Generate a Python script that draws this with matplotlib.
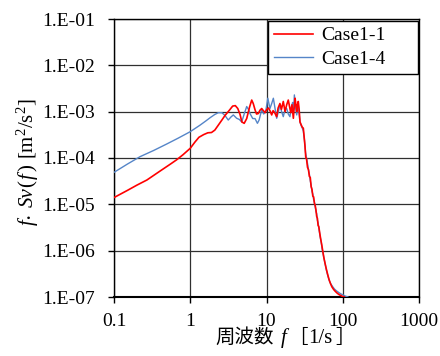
import numpy as np
import matplotlib
matplotlib.use("Agg")
from matplotlib import pyplot as plt
from matplotlib.ticker import NullLocator

# %% data
# Case1-1 (red)
case1_1_f = [0.1, 0.15, 0.2, 0.27, 0.4, 0.55, 0.66, 0.8, 1.0, 1.15, 1.3, 1.5, 1.7, 1.9,
             2.1, 2.33, 2.6, 2.86, 3.3, 3.6, 3.9, 4.2, 4.5, 4.75, 5.1, 5.5, 6.0, 6.4,
             6.7, 7.07, 7.4, 7.8, 8.2, 8.65, 9.1, 9.6, 10.1, 10.6, 11.1, 11.7, 12.2,
             12.8, 13.6, 14.2, 15.0, 15.7, 16.6, 17.5, 18.4, 19.3, 20.0, 20.8, 21.6,
             22.5, 23.1, 23.7, 24.3, 24.9, 25.5, 26.1, 26.8, 27.5, 28.5, 29.5, 30.4,
             31.2, 32.0, 32.7, 33.5, 34.5, 35.5, 36.5, 37.5, 38.5, 39.5, 40.5, 41.5,
             42.5, 43.5, 44.5, 45.5, 46.5, 47.5, 48.5, 50.0, 51.5, 53.0, 54.6, 56.5,
             58.5, 60.5, 63.0, 66.0, 69.0, 72.0, 76.0, 80.0, 85.0, 90.0, 95.0, 100.0,
             105.0]
case1_1_sv = [1.4e-5, 2.0e-5, 2.6e-5, 3.35e-5, 5.2e-5, 7.4e-5, 9.1e-5, 1.17e-4, 1.62e-4,
              2.2e-4, 2.8e-4, 3.2e-4, 3.5e-4, 3.55e-4, 4.0e-4, 5.1e-4, 6.6e-4, 8.3e-4,
              1.1e-3, 1.32e-3, 1.35e-3, 1.17e-3, 8.7e-4, 6.0e-4, 5.6e-4, 7.1e-4, 1.26e-3,
              1.78e-3, 1.5e-3, 1.1e-3, 8.9e-4, 9.1e-4, 1.07e-3, 1.17e-3, 1.05e-3, 9.5e-4,
              1.12e-3, 1.2e-3, 1.05e-3, 8.5e-4, 1.05e-3, 9.5e-4, 7.8e-4, 1.2e-3, 1.5e-3,
              1.12e-3, 1.66e-3, 1.0e-3, 1.41e-3, 1.78e-3, 1.32e-3, 9.5e-4, 1.41e-3,
              7.2e-4, 1.26e-3, 1.95e-3, 1.41e-3, 1.0e-3, 1.41e-3, 1.66e-3, 1.12e-3,
              6.0e-4, 5.2e-4, 4.6e-4, 4.4e-4, 2.8e-4, 1.78e-4, 1.05e-4, 9.5e-5, 6.3e-5,
              5.6e-5, 4.0e-5, 3.8e-5, 2.4e-5, 2.1e-5, 1.5e-5, 1.45e-5, 1.05e-5, 9.5e-6,
              7.6e-6, 5.5e-6, 5.0e-6, 3.5e-6, 3.3e-6, 2.35e-6, 1.74e-6, 1.35e-6, 1.0e-6,
              7.1e-7, 5.4e-7, 4.2e-7, 3.2e-7, 2.4e-7, 1.95e-7, 1.66e-7, 1.45e-7, 1.32e-7,
              1.2e-7, 1.12e-7, 1.07e-7, 1.02e-7, 1.0e-7]

# Case1-4 (blue)
case1_4_f = [0.1, 0.15, 0.22, 0.33, 0.49, 0.7, 1.0, 1.34, 1.6, 1.82, 2.1, 2.33, 2.6,
             2.85, 3.15, 3.4, 3.67, 4.06, 4.4, 4.73, 5.1, 5.5, 5.8, 6.08, 6.6, 7.07,
             7.6, 8.0, 8.65, 9.2, 9.8, 10.4, 11.1, 11.7, 12.3, 13.0, 13.6, 14.3, 15.0,
             15.8, 16.6, 17.5, 18.4, 19.3, 20.3, 21.2, 22.0, 22.7, 23.2, 24.0, 24.9,
             25.5, 26.1, 26.8, 27.5, 28.5, 29.5, 30.4, 31.5, 32.5, 33.5, 34.5, 35.5,
             36.5, 37.5, 38.5, 39.5, 40.5, 41.5, 42.5, 43.5, 44.5, 45.5, 46.5, 47.5,
             49.0, 50.5, 52.0, 53.5, 55.0, 57.0, 59.0, 61.0, 64.0, 67.0, 70.0, 74.0,
             78.0, 83.0, 88.0, 94.0, 100.0, 107.0, 117.0]
case1_4_sv = [4.9e-5, 7.4e-5, 1.07e-4, 1.45e-4, 2.0e-4, 2.7e-4, 3.7e-4, 5.1e-4, 6.3e-4,
              7.4e-4, 8.7e-4, 9.5e-4, 9.5e-4, 8.3e-4, 6.6e-4, 7.6e-4, 8.5e-4, 7.2e-4,
              6.8e-4, 6.0e-4, 8.9e-4, 1.29e-3, 1.12e-3, 9.1e-4, 7.1e-4, 7.1e-4, 5.6e-4,
              6.6e-4, 1.1e-3, 8.9e-4, 1.05e-3, 1.95e-3, 1.17e-3, 1.5e-3, 1.95e-3, 1.12e-3,
              7.2e-4, 1.0e-3, 1.38e-3, 1.0e-3, 7.8e-4, 1.12e-3, 1.17e-3, 8.9e-4, 7.8e-4,
              1.26e-3, 1.58e-3, 1.12e-3, 2.3e-3, 1.26e-3, 8.5e-4, 1.12e-3, 1.38e-3,
              8.9e-4, 6.0e-4, 5.0e-4, 4.4e-4, 3.8e-4, 2.4e-4, 1.32e-4, 1.0e-4, 7.6e-5,
              5.6e-5, 4.5e-5, 3.2e-5, 2.6e-5, 1.9e-5, 1.66e-5, 1.26e-5, 1.12e-5, 8.9e-6,
              7.1e-6, 6.3e-6, 4.5e-6, 4.0e-6, 2.8e-6, 2.0e-6, 1.58e-6, 1.12e-6, 8.9e-7,
              6.6e-7, 5.0e-7, 3.8e-7, 2.8e-7, 2.2e-7, 1.9e-7, 1.66e-7, 1.48e-7, 1.35e-7,
              1.26e-7, 1.17e-7, 1.12e-7, 1.05e-7, 1.0e-7]

x_ticks = [0.1, 1, 10, 100, 1000]
x_labels = ["0.1", "1", "10", "100", "1000"]
y_ticks = [1e-7, 1e-6, 1e-5, 1e-4, 1e-3, 1e-2, 1e-1]
y_labels = ["1.E-07", "1.E-06", "1.E-05", "1.E-04", "1.E-03", "1.E-02", "1.E-01"]

# axis titles, split into pieces so that each piece gets its own font
# (text, font family, style, size, gap before it in points, raise in points)
SERIF = ['Liberation Serif']
CJK = ['Noto Sans CJK JP', 'Liberation Serif']
xlabel_parts = [("周波数", CJK, 'normal', 14, 0, 0),
                ("f", SERIF, 'italic', 15, 5.5, 0),
                ("［", CJK, 'normal', 14, 1, 0),
                ("1/s", SERIF, 'normal', 15, 0, 0),
                ("］", CJK, 'normal', 14, 2.5, 0)]
ylabel_parts = [("f", SERIF, 'italic', 15, 0, 0),
                ("・", CJK, 'normal', 9, 0, 2.5),
                ("Sv", SERIF, 'italic', 15, 0, 0),
                ("(", SERIF, 'normal', 15, 0, 0),
                ("f", SERIF, 'italic', 15, 1, 0),
                (")", SERIF, 'normal', 15, 1.5, 0),
                ("[m$^2$/s$^2$]", SERIF, 'normal', 15, 4, 0)]

# %% style
plt.rcParams['font.family'] = ['Liberation Serif', 'Noto Sans CJK JP']
plt.rcParams['mathtext.fontset'] = 'custom'
plt.rcParams['mathtext.rm'] = 'Liberation Serif'
plt.rcParams['mathtext.it'] = 'Liberation Serif:italic'

# %% plot
fig = plt.figure(figsize=(4.4, 3.56), dpi=100)
ax = fig.add_axes([114/440, 1 - 297/356, 305/440, 278/356])

ax.plot(case1_4_f, case1_4_sv, color='#5585C8', lw=1.0, zorder=3, label='Case1-4')
ax.plot(case1_1_f, case1_1_sv, color='#FF0000', lw=1.2, zorder=4, label='Case1-1')

ax.set_xscale('log')
ax.set_yscale('log')
ax.set_xlim(0.1, 1000)
ax.set_ylim(1e-7, 1e-1)
ax.set_xticks(x_ticks, x_labels)
ax.set_yticks(y_ticks, y_labels)
ax.xaxis.set_minor_locator(NullLocator())
ax.yaxis.set_minor_locator(NullLocator())
ax.tick_params(axis='both', direction='out', length=4.5, width=1, labelsize=14,
               colors='k')
ax.tick_params(axis='y', pad=9)
ax.tick_params(axis='x', pad=7)
ax.grid(True, which='major', color='#303030', lw=0.9)
for s in ax.spines.values():
    s.set_color('k')
    s.set_linewidth(1.0)
ax.spines['bottom'].set_linewidth(1.5)

# x label: pieces chained left to right on one baseline
x0, y0 = 215/440, (356 - 343)/356
prev = None
for txt, fam, sty, sz, gap, up in xlabel_parts:
    if prev is None:
        prev = fig.text(x0, y0, txt, family=fam, style=sty, fontsize=sz,
                        ha='left', va='baseline')
    else:
        prev = ax.annotate(txt, xy=(1, y0), xycoords=(prev, fig.transFigure),
                           xytext=(gap, up), textcoords='offset points',
                           family=fam, style=sty, fontsize=sz, ha='left',
                           va='baseline', annotation_clip=False)

# y label: pieces chained bottom to top, rotated
x1, y1 = 33/440, (356 - 225)/356
prev = None
for txt, fam, sty, sz, gap, up in ylabel_parts:
    if prev is None:
        prev = fig.text(x1, y1, txt, family=fam, style=sty, fontsize=sz,
                        rotation=90, rotation_mode='anchor', ha='left',
                        va='baseline')
    else:
        prev = ax.annotate(txt, xy=(x1, 1), xycoords=(fig.transFigure, prev),
                           xytext=(-up, gap), textcoords='offset points',
                           family=fam, style=sty, fontsize=sz, rotation=90,
                           rotation_mode='anchor', ha='left', va='baseline',
                           annotation_clip=False)

handles, labels = ax.get_legend_handles_labels()
leg = ax.legend(handles[::-1], labels[::-1], loc='upper left', mode='expand',
                bbox_to_anchor=((268 - 114)/305, 0.5, (418 - 268)/305, (297 - 21)/278 - 0.5),
                fontsize=14, frameon=True, fancybox=False, edgecolor='k',
                framealpha=1, borderaxespad=0, handlelength=2.0,
                handletextpad=0.45, labelspacing=0.3, borderpad=0.3)
leg.get_frame().set_linewidth(1.0)
leg.set_zorder(10)

fig.savefig('out.png', dpi=100)
